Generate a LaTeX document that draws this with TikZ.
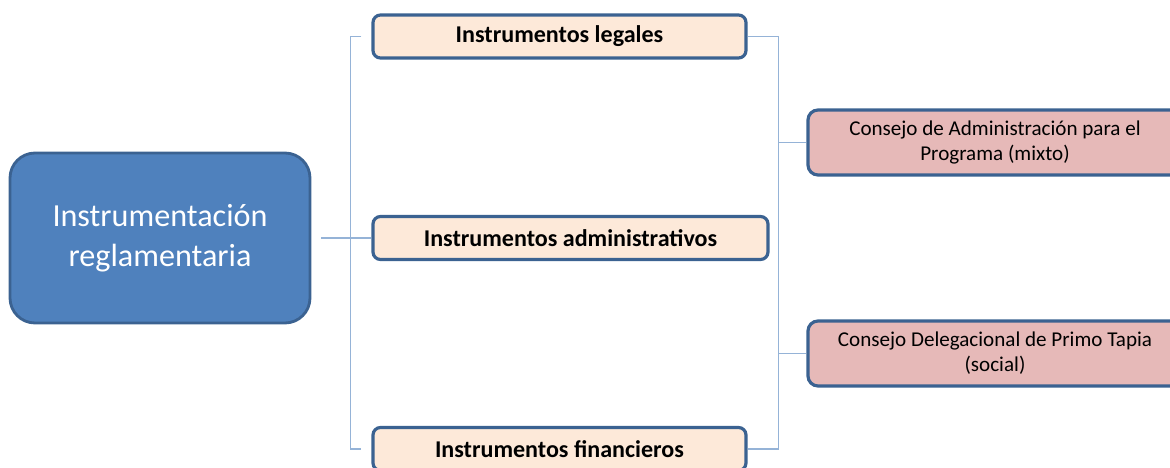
\documentclass[tikz,border=0pt]{standalone}
\usepackage{fontspec}
\setmainfont{Carlito}
\usepackage{xcolor}
\usetikzlibrary{positioning}

\definecolor{mainblue}{HTML}{4F81BD}
\definecolor{edgeblue}{HTML}{3B6291}
\definecolor{linkblue}{HTML}{95B3D7}
\definecolor{peach}{HTML}{FDE9D9}
\definecolor{rose}{HTML}{E6B9B8}

\tikzset{
  rootbox/.style={draw=edgeblue, fill=mainblue, line width=1.6pt, rounded corners=0.5cm,
    minimum width=6cm, minimum height=3.4cm, text=white, align=center,
    font=\fontsize{18.3}{23}\selectfont},
  instbox/.style={draw=edgeblue, fill=peach, line width=1.8pt, rounded corners=0.15cm,
    minimum height=0.86cm, font=\fontsize{13.7}{16}\selectfont\bfseries},
  consbox/.style={draw=edgeblue, fill=rose, line width=1.8pt, rounded corners=0.2cm,
    minimum width=7.48cm, minimum height=1.3cm, align=center,
    font=\fontsize{12}{14.3}\selectfont},
  link/.style={draw=linkblue, line width=1pt}
}

\begin{document}
\begin{tikzpicture}
\useasboundingbox (0,0) rectangle (23.4,9.34);
\clip (0,0) rectangle (23.4,9.34);

\node[rootbox] (root) at (3.2,4.58) {Instrumentación\\reglamentaria};

\node[instbox, minimum width=7.46cm] (legales) at (11.19,8.61) {Instrumentos legales};
\node[instbox, minimum width=7.9cm] (admin) at (11.41,4.58) {Instrumentos administrativos};
\node[instbox, minimum width=7.46cm] (financ) at (11.19,0.36) {Instrumentos financieros};

\node[consbox] (cadmin) at (19.9,6.49) {Consejo de Administración para el\\Programa (mixto)};
\node[consbox] (cdeleg) at (19.9,2.27) {Consejo Delegacional de Primo Tapia\\(social)};

% left bracket
\coordinate (lb top) at ([xshift=-0.42cm]legales.west);
\coordinate (lb bot) at ([xshift=-0.42cm]financ.west);
\draw[link] ([xshift=0.2cm]root.east) -- (admin.west);
\draw[link] ([xshift=-0.2cm]legales.west) -- (lb top) -- (lb bot) -- ([xshift=-0.2cm]financ.west);

% right bracket
\coordinate (rb top) at ([xshift=0.62cm]legales.east);
\coordinate (rb bot) at ([xshift=0.62cm]financ.east);
\draw[link] (legales.east) -- (rb top) -- (rb bot) -- (financ.east);
\draw[link] (cadmin.west) -- (cadmin.west -| rb top);
\draw[link] (cdeleg.west) -- (cdeleg.west -| rb top);
\end{tikzpicture}
\end{document}
